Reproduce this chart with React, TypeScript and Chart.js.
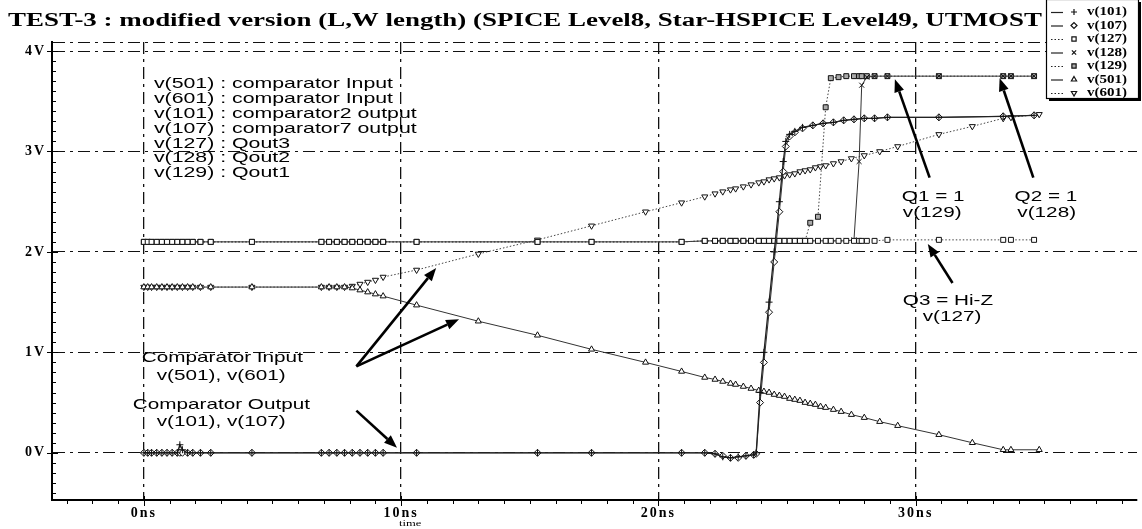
import React, { useEffect, useRef } from 'react';
import { Chart, registerables } from 'chart.js';
import { drawPoint } from 'chart.js/helpers';

Chart.register(...registerables);

// ---------- text ----------
const TITLE = 'TEST-3 : modified version (L,W length) (SPICE Level8, Star-HSPICE Level49, UTMOST';
const X_AXIS_NAME = 'time';
const X_TICKS = [0, 10, 20, 30];
const Y_TICKS = [0, 1, 2, 3, 4];
const X_MIN = -3.57;
const X_MAX = 38.6;
const Y_MIN = -0.47;
const Y_MAX = 4.09;

// ---------- data (time in ns, voltage in V) ----------
const tIn = [0, 0.15, 0.3, 0.5, 0.7, 0.9, 1.1, 1.3, 1.5, 1.7, 1.9, 2.2, 2.6, 4.2, 6.9, 7.2, 7.5, 7.8,
  8.1, 8.4, 8.7, 9.0, 9.3,
  10.6, 13.0, 15.3, 17.4, 19.5, 20.9,
  21.8, 22.2, 22.5, 22.8, 23.0, 23.3, 23.6, 23.9, 24.1, 24.3, 24.5, 24.7, 24.9, 25.1, 25.3, 25.5, 25.7, 25.9, 26.1, 26.3, 26.5, 26.8, 27.1, 27.5, 28.0, 28.6,
  29.3, 30.9, 32.2, 33.4, 33.7, 34.8];
const v501 = [1.65, 1.65, 1.65, 1.65, 1.65, 1.65, 1.65, 1.65, 1.65, 1.65, 1.65, 1.65, 1.65, 1.65, 1.65, 1.65, 1.65, 1.65,
  1.64, 1.62, 1.60, 1.58, 1.56,
  1.47, 1.31, 1.17, 1.03, 0.90, 0.81,
  0.75, 0.73, 0.71, 0.69, 0.68, 0.66, 0.64, 0.62, 0.61, 0.60, 0.58, 0.57, 0.56, 0.54, 0.53, 0.52, 0.50, 0.49, 0.48, 0.46, 0.45, 0.43, 0.41, 0.38, 0.35, 0.31,
  0.27, 0.18, 0.10, 0.03, 0.03, 0.03];
const v601 = [1.65, 1.65, 1.65, 1.65, 1.65, 1.65, 1.65, 1.65, 1.65, 1.65, 1.65, 1.65, 1.65, 1.65, 1.65, 1.65, 1.65, 1.65,
  1.66, 1.68, 1.70, 1.72, 1.75,
  1.82, 1.98, 2.12, 2.26, 2.40, 2.49,
  2.55, 2.58, 2.60, 2.62, 2.63, 2.65, 2.67, 2.69, 2.70, 2.72, 2.73, 2.74, 2.76, 2.77, 2.78, 2.80, 2.81, 2.82, 2.84, 2.85, 2.86, 2.88, 2.90, 2.93, 2.96, 3.00,
  3.05, 3.17, 3.25, 3.33, 3.34, 3.37];

const tQ = [0, 0.15, 0.3, 0.5, 0.7, 0.9, 1.1, 1.3, 1.5, 1.7, 1.9, 2.2, 2.6, 4.2, 6.9, 7.2, 7.5, 7.8,
  8.1, 8.4, 8.7, 9.0, 9.3,
  10.6, 15.3, 17.4, 20.9,
  21.8, 22.2, 22.5, 22.8, 23.0, 23.3, 23.6, 23.9, 24.1, 24.3, 24.5, 24.7, 24.9, 25.1, 25.3, 25.5, 25.7, 25.9,
  26.2, 26.5, 26.7, 27.0, 27.3, 27.6, 27.8, 27.9, 28.1, 28.4,
  28.9, 30.9, 33.4, 33.7, 34.6];
const v127 = [2.10, 2.10, 2.10, 2.10, 2.10, 2.10, 2.10, 2.10, 2.10, 2.10, 2.10, 2.10, 2.10, 2.10, 2.10, 2.10, 2.10, 2.10,
  2.10, 2.10, 2.10, 2.10, 2.10,
  2.10, 2.10, 2.10, 2.10,
  2.11, 2.11, 2.11, 2.11, 2.11, 2.11, 2.11, 2.11, 2.11, 2.11, 2.11, 2.11, 2.11, 2.11, 2.11, 2.11, 2.11, 2.11,
  2.11, 2.11, 2.11, 2.11, 2.11, 2.11, 2.11, 2.11, 2.11, 2.11,
  2.12, 2.12, 2.12, 2.12, 2.12];
const v128 = [2.10, 2.10, 2.10, 2.10, 2.10, 2.10, 2.10, 2.10, 2.10, 2.10, 2.10, 2.10, 2.10, 2.10, 2.10, 2.10, 2.10, 2.10,
  2.10, 2.10, 2.10, 2.10, 2.10,
  2.10, 2.10, 2.10, 2.10,
  2.11, 2.11, 2.11, 2.11, 2.11, 2.11, 2.11, 2.11, 2.11, 2.11, 2.11, 2.11, 2.11, 2.11, 2.11, 2.11, 2.11, 2.11,
  2.11, 2.11, 2.11, 2.11, 2.11, 2.12, 2.90, 3.66, 3.74, 3.75,
  3.75, 3.75, 3.75, 3.75, 3.75];
const v129 = [2.10, 2.10, 2.10, 2.10, 2.10, 2.10, 2.10, 2.10, 2.10, 2.10, 2.10, 2.10, 2.10, 2.10, 2.10, 2.10, 2.10, 2.10,
  2.10, 2.10, 2.10, 2.10, 2.10,
  2.10, 2.10, 2.10, 2.10,
  2.11, 2.11, 2.11, 2.11, 2.11, 2.11, 2.11, 2.11, 2.11, 2.11, 2.11, 2.11, 2.11, 2.11, 2.11, 2.11, 2.11, 2.29,
  2.35, 3.44, 3.73, 3.74, 3.75, 3.75, 3.75, 3.75, 3.75, 3.75,
  3.75, 3.75, 3.75, 3.75, 3.75];

const tC = [0, 0.15, 0.3, 0.5, 0.7, 0.9, 1.1, 1.3,
  1.4, 1.5, 1.7, 1.9, 2.2, 2.6,
  4.2, 6.9, 7.2, 7.5, 7.8,
  8.1, 8.4, 8.7, 9.0, 9.3,
  10.6, 15.3, 17.4, 20.9,
  21.8, 22.2, 22.5, 22.8, 23.1, 23.4, 23.7,
  23.8, 23.95, 24.1, 24.3, 24.5, 24.7, 24.85, 24.95,
  25.1, 25.3, 25.6, 26.0, 26.4, 26.8, 27.2, 27.6, 28.0, 28.4,
  28.9, 30.9, 33.4, 34.6];
const v101 = [0, 0, 0, 0, 0, 0, 0, 0,
  0.08, 0.03, 0, 0, 0, 0,
  0, 0, 0, 0, 0,
  0, 0, 0, 0, 0,
  0, 0, 0, 0,
  0, -0.01, -0.04, -0.05, -0.04, -0.03, -0.02,
  0.0, 0.6, 1.0, 1.5, 2.0, 2.5, 2.9, 3.1,
  3.17, 3.2, 3.24, 3.26, 3.28, 3.29, 3.31, 3.32, 3.33, 3.33,
  3.34, 3.34, 3.35, 3.36];
const v107 = [0, 0, 0, 0, 0, 0, 0, 0,
  0, 0, 0, 0, 0, 0,
  0, 0, 0, 0, 0,
  0, 0, 0, 0, 0,
  0, 0, 0, 0,
  0, -0.01, -0.03, -0.05, -0.05, -0.03, -0.02,
  -0.01, 0.5, 0.9, 1.4, 1.9, 2.4, 2.8, 3.05,
  3.15, 3.19, 3.23, 3.26, 3.28, 3.29, 3.31, 3.32, 3.33, 3.33,
  3.34, 3.34, 3.35, 3.36];

// ---------- annotations (data coordinates: ns, V) ----------
const INFO_LINES = [
  'v(501) : comparator Input',
  'v(601) : comparator Input',
  'v(101) : comparator2 output',
  'v(107) : comparator7 output',
  'v(127) : Qout3',
  'v(128) : Qout2',
  'v(129) : Qout1',
];
const INFO_POS = { t: 0.39, v: 3.67 };

const NOTE_TEXT = ['Comparator Input', 'v(501), v(601)', 'Comparator Output', 'v(101), v(107)',
  'Q1 = 1', 'v(129)', 'Q2 = 1', 'v(128)', 'Q3 = Hi-Z', 'v(127)'];
const NOTE_T = [-0.08, 0.5, -0.43, 0.5, 29.46, 29.5, 33.84, 33.95, 29.5, 30.27];
const NOTE_V = [0.95, 0.77, 0.48, 0.31, 2.55, 2.39, 2.55, 2.39, 1.51, 1.35];

const ARROW_FROM_T = [8.26, 8.26, 8.26, 30.54, 34.57, 31.43];
const ARROW_FROM_V = [0.86, 0.86, 0.42, 2.74, 2.74, 1.69];
const ARROW_TO_T = [11.36, 12.25, 9.84, 29.19, 33.26, 30.47];
const ARROW_TO_V = [1.84, 1.33, 0.05, 3.72, 3.73, 2.08];

const SERIF = 'Liberation Serif';
const SANS = 'Liberation Sans';

function stretchText(ctx: CanvasRenderingContext2D, text: string, x: number, y: number, font: string, sx: number) {
  ctx.save();
  ctx.font = font;
  ctx.textAlign = 'left';
  ctx.textBaseline = 'middle';
  ctx.fillStyle = '#000';
  ctx.translate(x, y);
  ctx.scale(sx, 1);
  ctx.fillText(text, 0, 0);
  ctx.restore();
}

const bgPlugin = {
  id: 'bg',
  beforeDraw(chart: any) {
    const ctx = chart.ctx as CanvasRenderingContext2D;
    ctx.save();
    ctx.fillStyle = '#fff';
    ctx.fillRect(0, 0, chart.width, chart.height);
    ctx.restore();
    (ctx as any).letterSpacing = '2px';
  },
  beforeDatasetsDraw(chart: any) {
    (chart.ctx as any).letterSpacing = '0px';
  },
};

const decoPlugin = {
  id: 'deco',
  afterDraw(chart: any) {
    const ctx = chart.ctx as CanvasRenderingContext2D;
    const xs = chart.scales.x;
    const ys = chart.scales.y;
    const { left, right, top, bottom } = chart.chartArea;
    (ctx as any).letterSpacing = '0px';

    // minor / major tick marks
    ctx.save();
    ctx.strokeStyle = '#000';
    ctx.lineWidth = 1;
    ctx.beginPath();
    for (let k = -4; k <= 40; k++) {
      const py = Math.round(ys.getPixelForValue(k / 10)) + 0.5;
      if (py < top || py > bottom) continue;
      const major = k % 10 === 0;
      ctx.moveTo(major ? left - 5 : left, py);
      ctx.lineTo(left + (major ? 6 : 4), py);
    }
    for (let k = -3; k <= 38; k++) {
      const px = Math.round(xs.getPixelForValue(k)) + 0.5;
      if (px < left || px > right) continue;
      const major = k % 10 === 0;
      ctx.moveTo(px, major ? bottom - 4 : bottom);
      ctx.lineTo(px, bottom + (major ? 6 : 4));
    }
    ctx.stroke();
    ctx.restore();

    // title (stretched to match the scanned original)
    ctx.save();
    const tFont = `bold 18px ${SERIF}`;
    ctx.font = tFont;
    const tw = ctx.measureText(TITLE).width;
    ctx.restore();
    stretchText(ctx, TITLE, 8, 21, tFont, 1034 / tw);

    // axis name
    stretchText(ctx, X_AXIS_NAME, 399, 524, `9px ${SERIF}`, 1.4);

    // info block
    const nFont = `15px ${SANS}`;
    const bx = xs.getPixelForValue(INFO_POS.t);
    const by = ys.getPixelForValue(INFO_POS.v);
    INFO_LINES.forEach((s, i) => stretchText(ctx, s, bx, by + i * 14.8, nFont, 1.42));

    // notes
    NOTE_TEXT.forEach((s, i) => {
      stretchText(ctx, s, xs.getPixelForValue(NOTE_T[i]), ys.getPixelForValue(NOTE_V[i]), nFont, 1.38);
    });

    // arrows
    ctx.save();
    ctx.strokeStyle = '#000';
    ctx.fillStyle = '#000';
    ctx.lineWidth = 2.6;
    ARROW_FROM_T.forEach((_, i) => {
      const x1 = xs.getPixelForValue(ARROW_FROM_T[i]);
      const y1 = ys.getPixelForValue(ARROW_FROM_V[i]);
      const x2 = xs.getPixelForValue(ARROW_TO_T[i]);
      const y2 = ys.getPixelForValue(ARROW_TO_V[i]);
      const ang = Math.atan2(y2 - y1, x2 - x1);
      const L = 13;
      const W = 5;
      const bx2 = x2 - L * Math.cos(ang);
      const by2 = y2 - L * Math.sin(ang);
      ctx.beginPath();
      ctx.moveTo(x1, y1);
      ctx.lineTo(bx2, by2);
      ctx.stroke();
      ctx.beginPath();
      ctx.moveTo(x2, y2);
      ctx.lineTo(bx2 + W * Math.sin(ang), by2 - W * Math.cos(ang));
      ctx.lineTo(bx2 - W * Math.sin(ang), by2 + W * Math.cos(ang));
      ctx.closePath();
      ctx.fill();
    });
    ctx.restore();

    // legend box
    const lx = 1046;
    const lw = 92;
    const ly = -1;
    const lh = 99;
    ctx.save();
    ctx.fillStyle = '#000';
    ctx.fillRect(lx + 3, ly + 3, lw, lh);
    ctx.fillStyle = '#fff';
    ctx.fillRect(lx, ly, lw, lh);
    ctx.strokeStyle = '#000';
    ctx.lineWidth = 1.2;
    ctx.strokeRect(lx + 0.5, ly + 0.5, lw, lh);
    ctx.restore();
    chart.data.datasets.forEach((ds: any, i: number) => {
      const y = 12 + i * 13.5;
      ctx.save();
      ctx.strokeStyle = '#222';
      ctx.lineWidth = 1.2;
      ctx.setLineDash(ds.borderDash || []);
      ctx.beginPath();
      ctx.moveTo(lx + 5, y + 0.5);
      ctx.lineTo(lx + 17, y + 0.5);
      ctx.stroke();
      ctx.setLineDash([]);
      ctx.strokeStyle = '#111';
      ctx.fillStyle = ds.pointBackgroundColor;
      drawPoint(ctx, { pointStyle: ds.pointStyle, radius: 3, rotation: ds.pointRotation || 0, borderWidth: 1 } as any, lx + 28, y);
      ctx.restore();
      stretchText(ctx, ds.label, lx + 41, y, `bold 12px ${SERIF}`, 1.25);
    });
  },
};

export default function App() {
  const ref = useRef<HTMLCanvasElement>(null);
  useEffect(() => {
    const canvas = ref.current!;
    const mk = (label: string, t: number[], v: number[], style: any) => ({
      label,
      data: t.map((x, i) => ({ x, y: v[i] })),
      showLine: true,
      borderWidth: 1,
      pointRadius: 3.5,
      pointBorderWidth: 1,
      pointBorderColor: '#111',
      pointBackgroundColor: '#fff',
      ...style,
    });
    const datasets = [
      mk('v(101)', tC, v101, { pointStyle: 'cross', borderColor: '#222', borderWidth: 1.3, borderDash: [] }),
      mk('v(107)', tC, v107, { pointStyle: 'rectRot', borderColor: '#333', borderDash: [] }),
      mk('v(127)', tQ, v127, { pointStyle: 'rect', borderColor: '#444', borderDash: [1.5, 2] }),
      mk('v(128)', tQ, v128, { pointStyle: 'crossRot', borderColor: '#333', borderDash: [] }),
      mk('v(129)', tQ, v129, { pointStyle: 'rect', borderColor: '#444', borderDash: [1.5, 2], pointBackgroundColor: '#aaa' }),
      mk('v(501)', tIn, v501, { pointStyle: 'triangle', borderColor: '#333', borderDash: [] }),
      mk('v(601)', tIn, v601, { pointStyle: 'triangle', pointRotation: 180, borderColor: '#444', borderDash: [1.5, 2] }),
    ];
    const tickFont = { family: SERIF, weight: 'bold' as const, size: 14 };
    const chart = new Chart(canvas, {
      type: 'scatter',
      data: { datasets },
      options: {
        animation: false,
        responsive: false,
        devicePixelRatio: 1,
        layout: { padding: { left: 0, top: 42, right: 2, bottom: 0 } },
        plugins: { legend: { display: false }, tooltip: { enabled: false }, title: { display: false } },
        scales: {
          x: {
            type: 'linear',
            min: X_MIN,
            max: X_MAX,
            afterBuildTicks: (s: any) => { s.ticks = X_TICKS.map((value) => ({ value })); },
            afterFit: (s: any) => { s.height = 29; },
            ticks: { autoSkip: false, maxRotation: 0, padding: 5, font: tickFont, color: '#000', callback: (v: any) => `${v}ns` },
            grid: { color: '#111', lineWidth: 1.3, drawTicks: false },
            border: { display: true, color: '#000', width: 2, dash: [12, 5, 3, 5] },
          },
          y: {
            type: 'linear',
            min: Y_MIN,
            max: Y_MAX,
            afterBuildTicks: (s: any) => { s.ticks = [...Y_TICKS, Y_MAX].map((value) => ({ value })); },
            afterFit: (s: any) => { s.width = 52; },
            ticks: { autoSkip: false, padding: 6, font: tickFont, color: '#000', callback: (v: any) => (Y_TICKS.includes(v) ? `${v}V` : '') },
            grid: { color: '#111', lineWidth: 1, drawTicks: false },
            border: { display: true, color: '#000', width: 2, dash: [12, 5, 3, 5] },
          },
        },
      } as any,
      plugins: [bgPlugin, decoPlugin],
    });
    return () => chart.destroy();
  }, []);
  return (
    <div style={{ position: 'absolute', left: 0, top: 0, width: 1142, height: 529 }}>
      <canvas ref={ref} width={1142} height={529} style={{ display: 'block' }} />
    </div>
  );
}
